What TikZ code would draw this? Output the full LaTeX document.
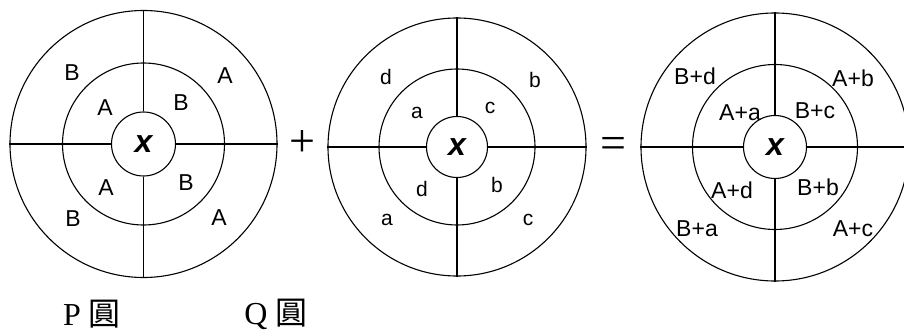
\documentclass[tikz,border=0pt]{standalone}
\usepackage{fontspec}
\setmainfont{Liberation Serif}
\setsansfont{Liberation Sans}
\newfontfamily\cjkfont{Noto Sans CJK TC}
\usetikzlibrary{positioning}

\tikzset{
  ring/.style={draw,circle,inner sep=0pt,line width=1.1pt},
  spoke/.style={line width=1.5pt},
  core/.style={ring,font=\sffamily\bfseries\itshape\fontsize{32}{32}\selectfont},
  seg/.style={font=\sffamily\fontsize{23}{23}\selectfont,inner sep=0pt},
  segsmall/.style={font=\sffamily\fontsize{21}{21}\selectfont,inner sep=0pt},
  sumseg/.style={font=\sffamily\fontsize{23}{23}\selectfont,inner sep=0pt},
  op/.style={font=\rmfamily\fontsize{46}{46}\selectfont,inner sep=0pt},
  capt/.style={inner sep=2pt,font=\fontsize{32}{32}\selectfont}
}

\begin{document}
\begin{tikzpicture}[x=1pt,y=-1pt]
    \useasboundingbox (0,0) rectangle (904,331);

    % P circle
    \node[ring,minimum size=267pt] (pout) at (143.5,144) {};
    \node[ring,minimum size=162pt] (pmid) at (143.5,144) {};
    \node[core,minimum size=64pt] (pin) at (143.5,144) {x};
    \foreach \d in {north,south,east,west}
        \draw[spoke] (pin.\d) -- (pout.\d);

    \node[seg] (p1) at (72,73) {B};
    \node[seg] (p2) at (225,76) {A};
    \node[seg] (p3) at (105,108) {A};
    \node[seg] (p4) at (181,103) {B};
    \node[seg] (p5) at (106,188) {A};
    \node[seg] (p6) at (186,183) {B};
    \node[seg] (p7) at (73,219) {B};
    \node[seg] (p8) at (219,218) {A};

    \node[op] (plus) at (302,144) {+};

    % Q circle
    \node[ring,minimum size=258pt] (qout) at (457,147) {};
    \node[ring,minimum size=156pt] (qmid) at (457,147) {};
    \node[core,minimum size=61pt] (qin) at (457,147) {x};
    \foreach \d in {north,south,east,west}
        \draw[spoke] (qin.\d) -- (qout.\d);

    \node[segsmall] (q1) at (386,77) {d};
    \node[segsmall] (q2) at (535,80) {b};
    \node[segsmall] (q3) at (417,113) {a};
    \node[segsmall] (q4) at (490,108) {c};
    \node[segsmall] (q5) at (422,189) {d};
    \node[segsmall] (q6) at (497,185) {b};
    \node[segsmall] (q7) at (387,220) {a};
    \node[segsmall] (q8) at (528,220) {c};

    \node[op] (equal) at (613,148) {=};

    % sum circle, cut at the right edge
    \begin{scope}
        \clip (0,0) rectangle (904,331);
        \node[ring,minimum size=268pt] (sout) at (775,147) {};
        \node[ring,minimum size=165pt] (smid) at (775,147) {};
        \node[core,minimum size=63pt] (sin) at (775,147) {x};
        \foreach \d in {north,south,east,west}
            \draw[spoke] (sin.\d) -- (sout.\d);
    \end{scope}

    \node[sumseg] (s1) at (695,76) {B+d};
    \node[sumseg] (s2) at (853,78) {A+b};
    \node[sumseg] (s3) at (740,113) {A+a};
    \node[sumseg] (s4) at (815,111) {B+c};
    \node[sumseg] (s5) at (732,190) {A+d};
    \node[sumseg] (s6) at (818,187) {B+b};
    \node[sumseg] (s7) at (697,229) {B+a};
    \node[sumseg] (s8) at (853,229) {A+c};

    % captions
    \node[capt] (pname) at (92,314) {P {\cjkfont 圓}};
    \node[capt] (qname) at (276,314) {Q {\cjkfont 圓}};
\end{tikzpicture}
\end{document}
